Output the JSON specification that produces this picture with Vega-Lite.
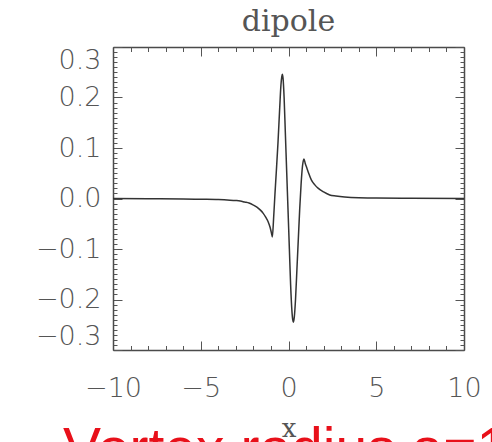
{
  "$schema": "https://vega.github.io/schema/vega-lite/v6.json",
  "width": 351,
  "height": 303,
  "autosize": {"type": "none"},
  "padding": {"left": 113, "top": 47, "right": 28, "bottom": 92},
  "background": "white",
  "title": {"text": "dipole", "font": "DejaVu Serif", "fontSize": 30, "fontWeight": "normal", "color": "#555555", "baseline": "alphabetic", "offset": -15},
  "config": {
    "view": {"stroke": null},
    "axis": {"grid": false, "domainColor": "#4a4a4a", "domainWidth": 1.5, "tickColor": "#555555", "tickWidth": 1, "labelColor": "#555555", "labelFont": "DejaVu Sans", "labelFontSize": 27, "labelFontWeight": 300}
  },
  "data": {"values": [
    {"x": -10, "y": 0}, {"x": -8, "y": -0.0005}, {"x": -6, "y": -0.001}, {"x": -5, "y": -0.0015},
    {"x": -4, "y": -0.002}, {"x": -3.5, "y": -0.003}, {"x": -3, "y": -0.004}, {"x": -2.75, "y": -0.005},
    {"x": -2.5, "y": -0.007}, {"x": -2.25, "y": -0.009}, {"x": -2.0, "y": -0.013}, {"x": -1.8, "y": -0.017},
    {"x": -1.6, "y": -0.023}, {"x": -1.45, "y": -0.029}, {"x": -1.3, "y": -0.037}, {"x": -1.15, "y": -0.047},
    {"x": -1.05, "y": -0.057}, {"x": -0.98, "y": -0.067}, {"x": -0.92, "y": -0.076}, {"x": -0.85, "y": -0.04},
    {"x": -0.77, "y": 0.01}, {"x": -0.7, "y": 0.05}, {"x": -0.6, "y": 0.11}, {"x": -0.5, "y": 0.18},
    {"x": -0.43, "y": 0.225}, {"x": -0.38, "y": 0.242}, {"x": -0.35, "y": 0.246}, {"x": -0.31, "y": 0.238},
    {"x": -0.25, "y": 0.2}, {"x": -0.18, "y": 0.13}, {"x": -0.1, "y": 0.05}, {"x": -0.03, "y": -0.02},
    {"x": 0.05, "y": -0.1}, {"x": 0.12, "y": -0.17}, {"x": 0.19, "y": -0.22}, {"x": 0.24, "y": -0.24},
    {"x": 0.28, "y": -0.245}, {"x": 0.33, "y": -0.235}, {"x": 0.4, "y": -0.2}, {"x": 0.48, "y": -0.14},
    {"x": 0.56, "y": -0.08}, {"x": 0.64, "y": -0.02}, {"x": 0.72, "y": 0.03}, {"x": 0.8, "y": 0.065},
    {"x": 0.88, "y": 0.078}, {"x": 0.95, "y": 0.07}, {"x": 1.05, "y": 0.06}, {"x": 1.15, "y": 0.05},
    {"x": 1.3, "y": 0.037}, {"x": 1.5, "y": 0.027}, {"x": 1.7, "y": 0.02}, {"x": 2.0, "y": 0.013},
    {"x": 2.35, "y": 0.007}, {"x": 2.7, "y": 0.005}, {"x": 3.2, "y": 0.003}, {"x": 4, "y": 0.0015},
    {"x": 5, "y": 0.001}, {"x": 7, "y": 0.0005}, {"x": 10, "y": 0}
  ]},
  "resolve": {"axis": {"x": "independent", "y": "independent"}},
  "layer": [
    {
      "mark": {"type": "line", "color": "#333333", "strokeWidth": 1.5, "interpolate": "monotone", "clip": true},
      "encoding": {
        "x": {"field": "x", "type": "quantitative", "scale": {"domain": [-10, 10], "nice": false},
          "axis": {"orient": "bottom", "values": [-10, -5, 0, 5, 10], "format": "d", "tickSize": -9, "labelPadding": 34, "labelFlush": false, "labelOverlap": false,
            "title": "x", "titleFont": "DejaVu Serif", "titleFontSize": 26, "titleFontWeight": "normal", "titleColor": "#555555", "titlePadding": 14}},
        "y": {"field": "y", "type": "quantitative", "scale": {"domain": [-0.3, 0.3], "nice": false, "zero": false},
          "axis": {"orient": "left", "values": [-0.3, -0.2, -0.1, 0, 0.1, 0.2, 0.3], "format": ".1f", "tickSize": -9, "labelPadding": 21, "labelFlush": true, "labelOverlap": false, "title": null}}
      }
    },
    {
      "mark": {"type": "line", "strokeOpacity": 0},
      "encoding": {
        "x": {"field": "x", "type": "quantitative", "axis": {"orient": "top", "values": [-10, -5, 0, 5, 10], "tickSize": -9, "labels": false, "title": null}},
        "y": {"field": "y", "type": "quantitative", "axis": {"orient": "right", "values": [-0.3, -0.2, -0.1, 0, 0.1, 0.2, 0.3], "tickSize": -9, "labels": false, "title": null}}
      }
    },
    {
      "mark": {"type": "line", "strokeOpacity": 0},
      "encoding": {
        "x": {"field": "x", "type": "quantitative", "axis": {"orient": "bottom", "values": [-9, -8, -7, -6, -4, -3, -2, -1, 1, 2, 3, 4, 6, 7, 8, 9], "tickSize": -4.5, "labels": false, "domain": false, "title": null}},
        "y": {"field": "y", "type": "quantitative", "axis": {"orient": "left", "values": [-0.29, -0.28, -0.27, -0.26, -0.25, -0.24, -0.23, -0.22, -0.21, -0.19, -0.18, -0.17, -0.16, -0.15, -0.14, -0.13, -0.12, -0.11, -0.09, -0.08, -0.07, -0.06, -0.05, -0.04, -0.03, -0.02, -0.01, 0.01, 0.02, 0.03, 0.04, 0.05, 0.06, 0.07, 0.08, 0.09, 0.11, 0.12, 0.13, 0.14, 0.15, 0.16, 0.17, 0.18, 0.19, 0.21, 0.22, 0.23, 0.24, 0.25, 0.26, 0.27, 0.28, 0.29], "tickSize": -4, "labels": false, "domain": false, "title": null}}
      }
    },
    {
      "mark": {"type": "line", "strokeOpacity": 0},
      "encoding": {
        "x": {"field": "x", "type": "quantitative", "axis": {"orient": "top", "values": [-9, -8, -7, -6, -4, -3, -2, -1, 1, 2, 3, 4, 6, 7, 8, 9], "tickSize": -4.5, "labels": false, "domain": false, "title": null}},
        "y": {"field": "y", "type": "quantitative", "axis": {"orient": "right", "values": [-0.29, -0.28, -0.27, -0.26, -0.25, -0.24, -0.23, -0.22, -0.21, -0.19, -0.18, -0.17, -0.16, -0.15, -0.14, -0.13, -0.12, -0.11, -0.09, -0.08, -0.07, -0.06, -0.05, -0.04, -0.03, -0.02, -0.01, 0.01, 0.02, 0.03, 0.04, 0.05, 0.06, 0.07, 0.08, 0.09, 0.11, 0.12, 0.13, 0.14, 0.15, 0.16, 0.17, 0.18, 0.19, 0.21, 0.22, 0.23, 0.24, 0.25, 0.26, 0.27, 0.28, 0.29], "tickSize": -4, "labels": false, "domain": false, "title": null}}
      }
    },
    {
      "data": {"values": [{"label": "Vortex radius a=1"}]},
      "mark": {"type": "text", "align": "left", "baseline": "alphabetic", "font": "Liberation Sans", "fontSize": 57, "color": "#e8101a"},
      "encoding": {
        "x": {"datum": -12.85, "type": "quantitative", "axis": null},
        "y": {"datum": -0.534, "type": "quantitative", "axis": null},
        "text": {"field": "label"}
      }
    }
  ]
}
